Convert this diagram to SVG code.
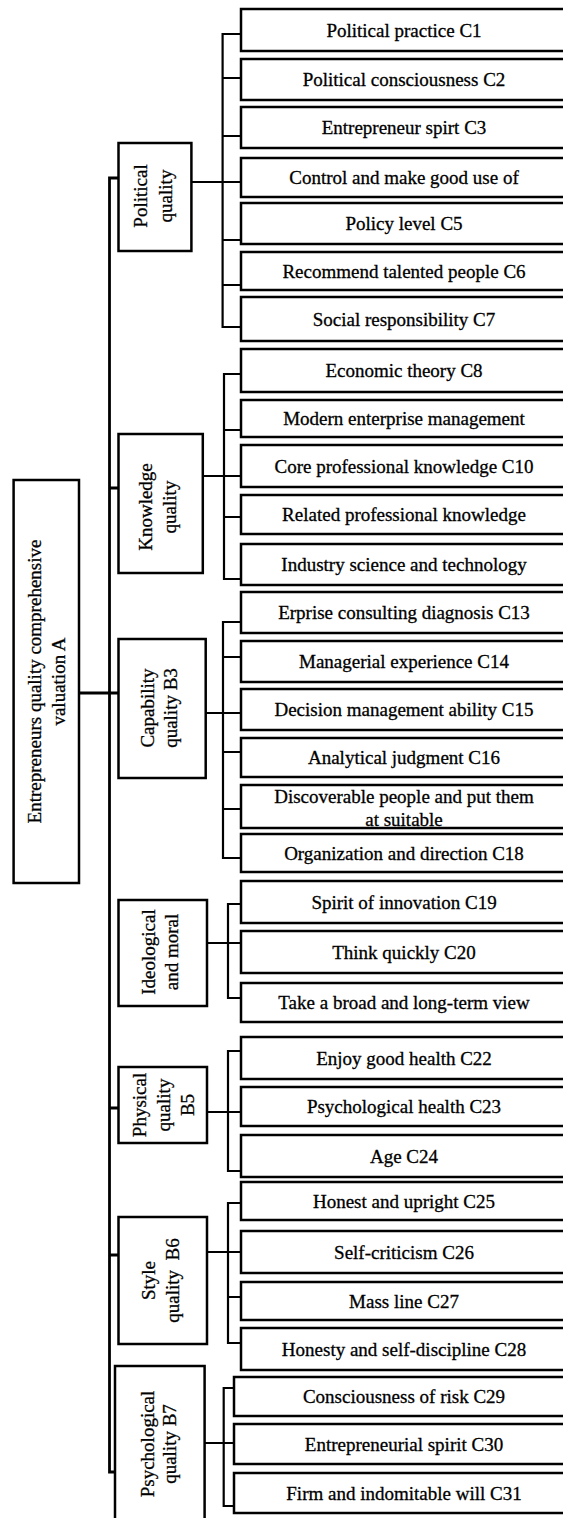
<svg xmlns="http://www.w3.org/2000/svg" width="563" height="1518" viewBox="0 0 563 1518">
<style>
.box{fill:#fff;stroke:#000;stroke-width:2.5}
.conn{fill:none;stroke:#000;stroke-width:2.2}
.spine{stroke-width:2.8}
text{font-family:"Liberation Serif","Times New Roman",serif;font-size:19px;fill:#000;stroke:#000;stroke-width:0.3;text-anchor:middle}
</style>
<rect width="563" height="1518" fill="#fff"/>
<g id="connectors" class="conn">
<path class="spine" d="M118.5 178H109.5V1472H116 M109.5 488H118.5 M79 693H118.5 M109.5 1108H118.5 M109.5 1255H118.5"/>
<path d="M241 34H222.6V327H241 M222.6 78H241 M222.6 136H241 M191.4 182H241 M222.6 240H241 M222.6 285H241"/>
<path d="M241 374H224V579H241 M224 430H241 M202.8 476H241 M224 517H241"/>
<path d="M241 622H223V858H241 M223 657H241 M205.7 713H241 M223 752H241 M223 809H241"/>
<path d="M241 904H228V998H241 M207 943H241"/>
<path d="M241 1051H228V1171H241 M207 1112H241"/>
<path d="M241 1203H228V1343H241 M207 1252H241 M228 1297H241"/>
<path d="M234 1388H223.7V1506H234 M204.6 1443H234"/>
</g>
<g id="A"><rect class="box" x="13.6" y="480" width="65.4" height="403"/>
<text transform="translate(46.3,681.5) rotate(-90)"><tspan x="0" y="-5.3">Entrepreneurs quality comprehensive</tspan><tspan x="0" y="18.7">valuation A</tspan></text></g>
<g id="B1"><rect class="box" x="118.5" y="143" width="72.9" height="108"/>
<text transform="translate(155,196) rotate(-90)"><tspan x="0" y="-8">Political</tspan><tspan x="0" y="17">quality</tspan></text></g>
<g id="B2"><rect class="box" x="118.5" y="434" width="84.3" height="139"/>
<text transform="translate(160.6,507) rotate(-90)"><tspan x="0" y="-8.6">Knowledge</tspan><tspan x="0" y="15">quality</tspan></text></g>
<g id="B3"><rect class="box" x="118.5" y="639" width="87.2" height="139"/>
<text transform="translate(162,708) rotate(-90)"><tspan x="0" y="-8">Capability</tspan><tspan x="0" y="15">quality B3</tspan></text></g>
<g id="B4"><rect class="box" x="118.5" y="900" width="88.5" height="106"/>
<text transform="translate(163,952) rotate(-90)"><tspan x="0" y="-8">Ideological</tspan><tspan x="0" y="15">and moral</tspan></text></g>
<g id="B5"><rect class="box" x="118.5" y="1067" width="88.5" height="76"/>
<text transform="translate(163,1105) rotate(-90)"><tspan x="0" y="-17">Physical</tspan><tspan x="0" y="7">quality</tspan><tspan x="0" y="31">B5</tspan></text></g>
<g id="B6"><rect class="box" x="118.5" y="1217" width="88.5" height="127"/>
<text transform="translate(163,1280.5) rotate(-90)"><tspan x="0" y="-8.5">Style</tspan><tspan x="0" y="16" style="white-space:pre">quality  B6</tspan></text></g>
<g id="B7"><rect class="box" x="115" y="1366" width="89.6" height="170"/>
<text transform="translate(160,1444) rotate(-90)"><tspan x="0" y="-6">Psychological</tspan><tspan x="0" y="15.5">quality B7</tspan></text></g>
<g id="C1"><rect class="box" x="241" y="9" width="330" height="42"/><text x="404" y="36.5">Political practice C1</text></g>
<g id="C2"><rect class="box" x="241" y="59" width="330" height="41"/><text x="404" y="86">Political consciousness C2</text></g>
<g id="C3"><rect class="box" x="241" y="107" width="330" height="41"/><text x="404" y="134">Entrepreneur spirt C3</text></g>
<g id="C4"><rect class="box" x="241" y="158" width="330" height="39"/><text x="404" y="184">Control and make good use of</text></g>
<g id="C5"><rect class="box" x="241" y="203" width="330" height="41"/><text x="404" y="230">Policy level C5</text></g>
<g id="C6"><rect class="box" x="241" y="252" width="330" height="38"/><text x="404" y="277.5">Recommend talented people C6</text></g>
<g id="C7"><rect class="box" x="241" y="297" width="330" height="44"/><text x="404" y="325.5">Social responsibility C7</text></g>
<g id="C8"><rect class="box" x="241" y="349" width="330" height="43"/><text x="404" y="377">Economic theory C8</text></g>
<g id="C9"><rect class="box" x="241" y="400" width="330" height="37"/><text x="404" y="425">Modern enterprise management</text></g>
<g id="C10"><rect class="box" x="241" y="445" width="330" height="42"/><text x="404" y="472.5">Core professional knowledge C10</text></g>
<g id="C11"><rect class="box" x="241" y="495" width="330" height="39"/><text x="404" y="521">Related professional knowledge</text></g>
<g id="C12"><rect class="box" x="241" y="544" width="330" height="41"/><text x="404" y="571">Industry science and technology</text></g>
<g id="C13"><rect class="box" x="241" y="592" width="330" height="41"/><text x="404" y="619">Erprise consulting diagnosis C13</text></g>
<g id="C14"><rect class="box" x="241" y="641" width="330" height="41"/><text x="404" y="668">Managerial experience C14</text></g>
<g id="C15"><rect class="box" x="241" y="689" width="330" height="41"/><text x="404" y="716">Decision management ability C15</text></g>
<g id="C16"><rect class="box" x="241" y="738" width="330" height="39"/><text x="404" y="764">Analytical judgment C16</text></g>
<g id="C17"><rect class="box" x="241" y="785" width="330" height="43"/><text x="404" y="802.5">Discoverable people and put them</text><text x="404" y="825.5">at suitable</text></g>
<g id="C18"><rect class="box" x="241" y="834" width="330" height="38"/><text x="404" y="859.5">Organization and direction C18</text></g>
<g id="C19"><rect class="box" x="241" y="881" width="330" height="42"/><text x="404" y="908.5">Spirit of innovation C19</text></g>
<g id="C20"><rect class="box" x="241" y="931" width="330" height="42"/><text x="404" y="958.5">Think quickly C20</text></g>
<g id="C21"><rect class="box" x="241" y="983" width="330" height="39"/><text x="404" y="1009">Take a broad and long-term view</text></g>
<g id="C22"><rect class="box" x="241" y="1037" width="330" height="42"/><text x="404" y="1064.5">Enjoy good health C22</text></g>
<g id="C23"><rect class="box" x="241" y="1087" width="330" height="39"/><text x="404" y="1113">Psychological health C23</text></g>
<g id="C24"><rect class="box" x="241" y="1135" width="330" height="42"/><text x="404" y="1162.5">Age C24</text></g>
<g id="C25"><rect class="box" x="241" y="1182" width="330" height="38"/><text x="404" y="1207.5">Honest and upright C25</text></g>
<g id="C26"><rect class="box" x="241" y="1231" width="330" height="42"/><text x="404" y="1258.5">Self-criticism C26</text></g>
<g id="C27"><rect class="box" x="241" y="1282" width="330" height="38"/><text x="404" y="1307.5">Mass line C27</text></g>
<g id="C28"><rect class="box" x="241" y="1328" width="330" height="42"/><text x="404" y="1355.5">Honesty and self-discipline C28</text></g>
<g id="C29"><rect class="box" x="234" y="1377" width="337" height="39"/><text x="404" y="1403">Consciousness of risk C29</text></g>
<g id="C30"><rect class="box" x="234" y="1424" width="337" height="40"/><text x="404" y="1450.5">Entrepreneurial spirit C30</text></g>
<g id="C31"><rect class="box" x="234" y="1473" width="337" height="40"/><text x="404" y="1499.5">Firm and indomitable will C31</text></g>
</svg>
